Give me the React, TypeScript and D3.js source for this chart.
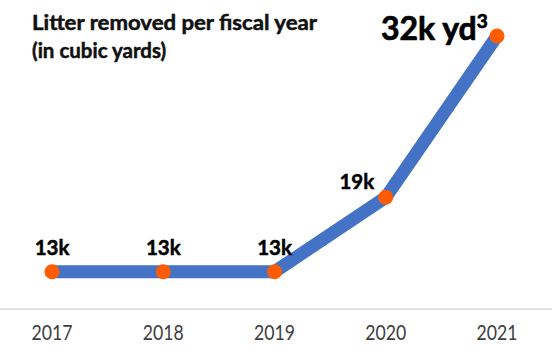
import React from "react";
import * as d3 from "d3";

const years = ["2017", "2018", "2019", "2020", "2021"];
const values = [13, 13, 13, 19, 32];
const labels = ["13k", "13k", "13k", "19k", ""];
const titleLines = ["Litter removed per fiscal year", "(in cubic yards)"];

export default function App() {
  const W = 552, H = 356;
  const x = d3.scalePoint<string>().domain(years).range([52, 497]);
  const y = d3.scaleLinear().domain([10, 32]).range([309, 36]);
  const line = d3.line<number>().x((_, i) => x(years[i])!).y((d) => y(d));
  const font = "Lato, 'Open Sans', sans-serif";
  return (
    <svg width={W} height={H} style={{ position: "absolute", left: 0, top: 0 }}>
      <rect width={W} height={H} fill="#fff" />
      {titleLines.map((t, i) => (
        <text key={i} x={32} y={30 + i * 28} fontFamily={font} fontWeight={700} fontSize={20.5} fill="#111" stroke="#111" strokeWidth={0.5} textLength={i === 0 ? 285 : undefined} lengthAdjust="spacingAndGlyphs">{t}</text>
      ))}
      <line x1={0} x2={W} y1={y(10)} y2={y(10)} stroke="#d9d9d9" strokeWidth={1.5} />
      {years.map((yr) => (
        <text key={yr} x={x(yr)} y={340} textAnchor="middle" fontFamily={font} fontSize={21.5} fill="#404040" textLength={41} lengthAdjust="spacingAndGlyphs">{yr}</text>
      ))}
      <path d={line(values)!} fill="none" stroke="#4472C4" strokeWidth={13} strokeLinejoin="round" />
      {values.map((v, i) => (
        <circle key={i} cx={x(years[i])} cy={y(v)} r={7.5} fill="#FF5B00" />
      ))}
      {values.map((v, i) =>
        labels[i] ? (
          <text key={i} x={i === 3 ? x(years[i])! - 29 : x(years[i])} y={i === 3 ? y(v) - 8 : y(v) - 17} textAnchor="middle" fontFamily={font} fontWeight={700} fontSize={20.5} fill="#000" stroke="#000" strokeWidth={0.5}>{labels[i]}</text>
        ) : null
      )}
      <text x={381} y={40} fontFamily={font} fontWeight={700} fontSize={32} fill="#000" stroke="#000" strokeWidth={0.7}>
        32k yd<tspan fontSize={19} dy={-12}>3</tspan>
      </text>
    </svg>
  );
}
